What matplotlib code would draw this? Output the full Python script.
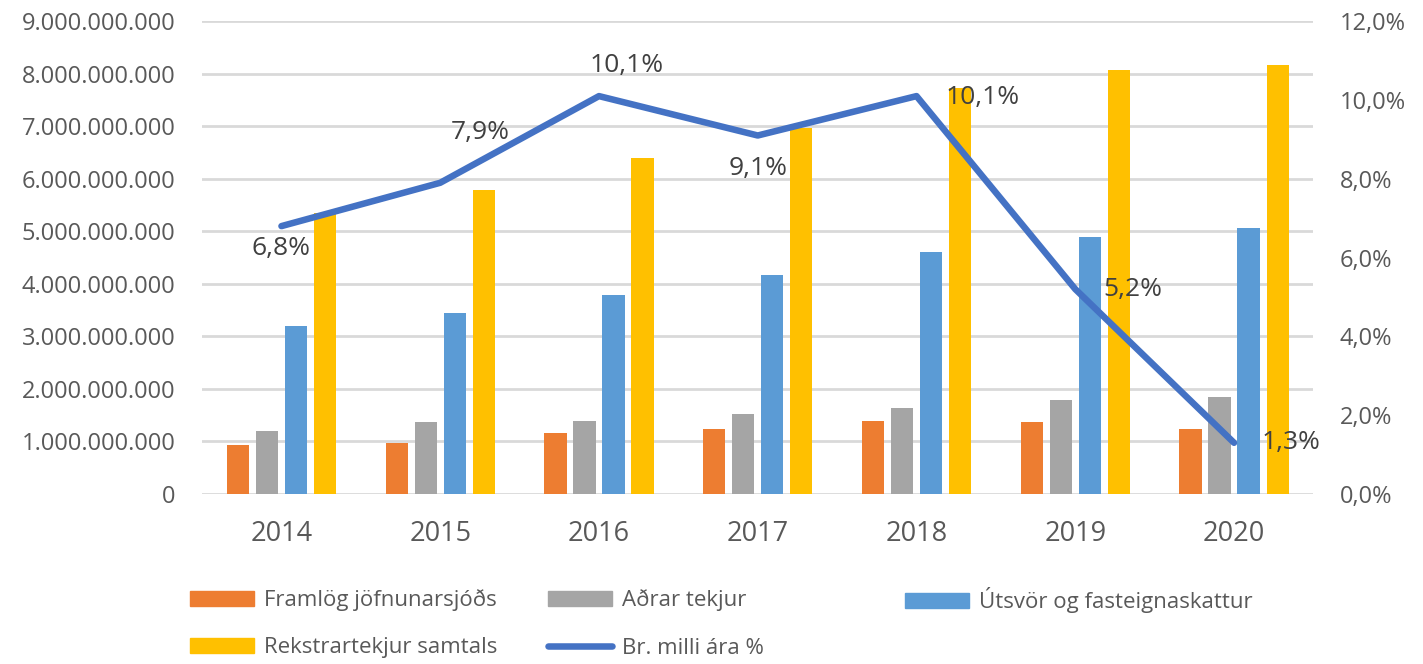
import numpy as np
import matplotlib
matplotlib.use("Agg")
import matplotlib.pyplot as plt
from matplotlib.ticker import FuncFormatter, MultipleLocator
from matplotlib.patches import Patch
from matplotlib.lines import Line2D

# data
years = ["2014", "2015", "2016", "2017", "2018", "2019", "2020"]
framlog = [0.93e9, 0.97e9, 1.16e9, 1.24e9, 1.39e9, 1.37e9, 1.24e9]
adrar = [1.20e9, 1.37e9, 1.39e9, 1.52e9, 1.64e9, 1.79e9, 1.85e9]
utsvor = [3.20e9, 3.44e9, 3.79e9, 4.17e9, 4.60e9, 4.89e9, 5.06e9]
rekstrar = [5.35e9, 5.78e9, 6.39e9, 6.96e9, 7.72e9, 8.07e9, 8.16e9]
breyting = [6.8, 7.9, 10.1, 9.1, 10.1, 5.2, 1.3]

series_names = ["Framlög jöfnunarsjóðs", "Aðrar tekjur",
                "Útsvör og fasteignaskattur", "Rekstrartekjur samtals"]
line_name = "Br. milli ára %"

colors = ["#ED7D31", "#A5A5A5", "#5B9BD5", "#FFC000"]
line_color = "#4472C4"
text_color = "#595959"

plt.rcParams["font.family"] = ["Open Sans", "DejaVu Sans"]

fig = plt.figure(figsize=(14.23, 6.64), dpi=100)
ax = fig.add_axes([0.142, 0.256, 0.781, 0.712])
ax2 = ax.twinx()

x = np.arange(len(years))
width = 0.14
step = 0.183
for i, (vals, c) in enumerate(zip([framlog, adrar, utsvor, rekstrar], colors)):
    ax.bar(x + (i - 1.5) * step, vals, width, color=c, zorder=3)

ax.set_xlim(-0.5, len(years) - 0.5)
ax.set_ylim(0, 9e9)
ax.yaxis.set_major_locator(MultipleLocator(1e9))
ax.yaxis.set_major_formatter(FuncFormatter(lambda v, p: f"{int(round(v)):,}".replace(",", ".")))
ax.grid(axis="y", color="#D9D9D9", linewidth=2, zorder=0)
ax.set_axisbelow(True)
ax.set_xticks(x)
ax.set_xticklabels(years)

ax2.plot(x, breyting, color=line_color, linewidth=4.7, solid_capstyle="round",
         solid_joinstyle="round", zorder=5)
ax2.set_ylim(0, 12)
ax2.yaxis.set_major_locator(MultipleLocator(2))
ax2.yaxis.set_major_formatter(FuncFormatter(lambda v, p: f"{v:.1f}%".replace(".", ",")))

# data label placement (offset in points, horizontal alignment)
placement = [((0, -16), "center"), ((29, 36), "center"), ((20, 22), "center"),
             ((0, -24), "center"), ((21, -1), "left"), ((20, 0), "left"),
             ((20, 0), "left")]
for xi, v, (off, ha) in zip(x, breyting, placement):
    ax2.annotate(f"{v:.1f}%".replace(".", ","), (xi, v), xytext=off,
                 textcoords="offset points", ha=ha, va="center",
                 fontsize=19, color="#404040", zorder=6)

for a in (ax, ax2):
    for s in a.spines.values():
        s.set_visible(False)
    a.tick_params(length=0, labelsize=17, labelcolor=text_color)
ax.tick_params(axis="x", labelsize=19.5, pad=19)
ax.tick_params(axis="y", pad=19)
ax2.tick_params(axis="y", pad=19)

# legend entries placed one by one, like the original layout
patches = [Patch(color=c, label=n) for c, n in zip(colors, series_names)]
line_handle = Line2D([], [], color=line_color, linewidth=4.7,
                     solid_capstyle="round", label=line_name)
entries = [(patches[0], 190, 600), (patches[1], 548, 600), (patches[2], 905, 600),
           (patches[3], 190, 648), (line_handle, 548, 648)]
W, H = 1423, 664
for h, px, py in entries:
    fig.legend(handles=[h], loc="center left", bbox_to_anchor=(px / W, 1 - py / H),
               frameon=False, fontsize=16, labelcolor=text_color,
               handlelength=2.9, handleheight=0.65, handletextpad=0.45,
               borderaxespad=0, borderpad=0)

fig.savefig("out.png", dpi=100, facecolor="white")
